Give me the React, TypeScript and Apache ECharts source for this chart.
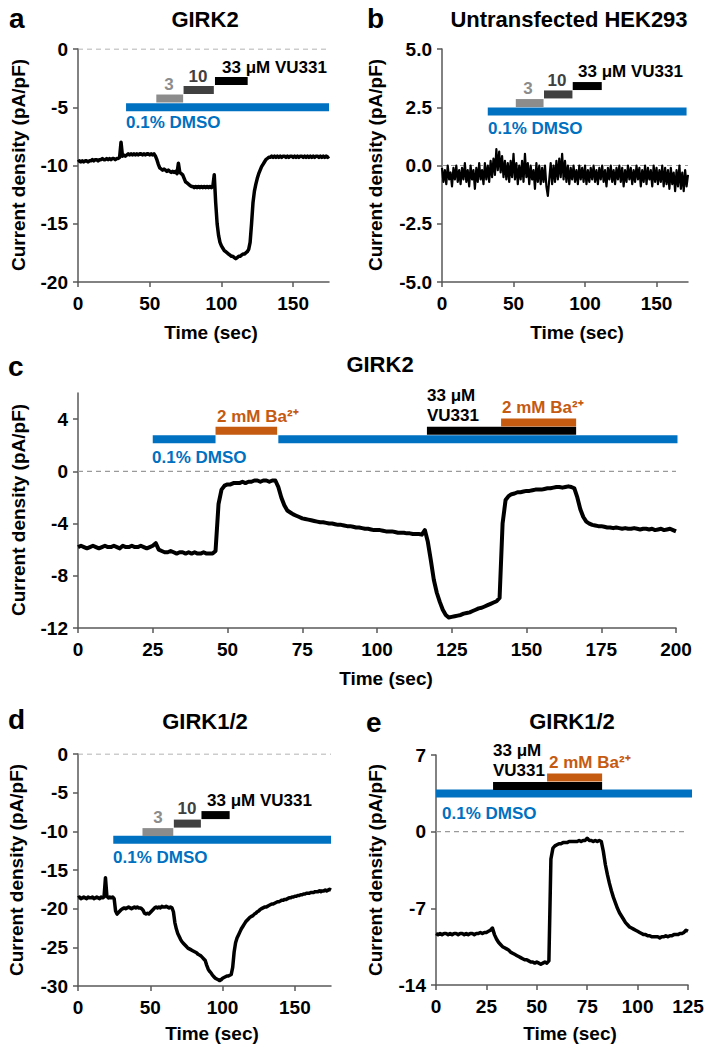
import React, { useEffect, useRef } from 'react';
import * as echarts from 'echarts';

// ---------- DATA (one sample per second, t = index in s) ----------
// Panel a — GIRK2 (pA/pF)
const aCurrent = [
  -9.7, -9.6, -9.7, -9.6, -9.7, -9.6, -9.6, -9.7, -9.6, -9.6,
  -9.5, -9.6, -9.5, -9.5, -9.6, -9.5, -9.5, -9.4, -9.5, -9.5,
  -9.4, -9.5, -9.4, -9.5, -9.4, -9.4, -9.5, -9.4, -9.4, -9.3,
  -8.0, -9.2, -9.1, -9.2, -9.1, -9.0, -9.1, -9.0, -9.1, -9.0,
  -9.1, -9.0, -9.1, -9.0, -9.0, -9.1, -9.0, -9.1, -9.0, -9.0,
  -9.1, -9.0, -9.1, -9.0, -9.2, -9.5, -9.9, -10.2, -10.3, -10.4,
  -10.3, -10.4, -10.5, -10.4, -10.5, -10.6, -10.5, -10.6, -10.5, -10.7,
  -9.8, -10.6, -10.7, -10.8, -11.1, -11.4, -11.5, -11.6, -11.7, -11.8,
  -11.8, -11.9, -11.8, -11.9, -11.8, -11.9, -11.8, -11.9, -11.8, -11.9,
  -11.8, -11.9, -11.8, -11.9, -11.8, -10.8, -13.2, -15.0, -16.0, -16.6,
  -16.9, -17.1, -17.3, -17.4, -17.5, -17.6, -17.7, -17.8, -17.8, -17.9,
  -18.0, -17.9, -17.8, -17.8, -17.7, -17.6, -17.6, -17.5, -17.4, -17.2,
  -16.6, -15.0, -13.2, -12.2, -11.6, -11.1, -10.7, -10.4, -10.1, -9.9,
  -9.7, -9.5, -9.4, -9.3, -9.3, -9.2, -9.3, -9.2, -9.3, -9.2,
  -9.3, -9.2, -9.3, -9.2, -9.2, -9.3, -9.2, -9.3, -9.2, -9.2,
  -9.3, -9.2, -9.3, -9.2, -9.3, -9.2, -9.2, -9.3, -9.2, -9.3,
  -9.2, -9.3, -9.2, -9.3, -9.2, -9.3, -9.2, -9.2, -9.3, -9.2,
  -9.3, -9.2, -9.3, -9.2, -9.3, -9.2,
];
const aBarStart = [33.5, 54.6, 73.6, 95.5];
const aBarEnd = [175, 73.3, 94.7, 118.3];
const aBarLevel = [-5.0, -4.25, -3.52, -2.75];

// Panel b — untransfected HEK293
const bCurrent = [
  -0.1, -0.7, -0.2, -0.8, 0.0, -0.6, -0.3, -0.9, -0.1, -0.6,
  0.0, -0.7, -0.2, -0.8, -0.1, -0.6, 0.1, -0.7, -0.2, -0.9,
  0.0, -0.6, -0.2, -1.0, -0.1, -0.7, 0.1, -0.6, -0.2, -0.8,
  0.1, -0.6, 0.0, -0.7, 0.2, -0.5, 0.3, -0.4, 0.7, -0.2,
  0.6, -0.3, 0.4, -0.5, 0.2, -0.6, 0.1, -0.7, 0.2, -0.5,
  0.5, -0.6, 0.1, -0.8, 0.0, -0.6, 0.2, -0.7, 0.5, -0.5,
  0.1, -0.8, 0.0, -0.6, -0.2, -1.0, 0.1, -0.7, 0.0, -0.8,
  -0.1, -0.7, 0.0, -0.9, -1.3, -0.6, 0.1, -0.8, 0.0, -0.7,
  0.2, -0.6, 0.3, -0.5, 0.5, -0.6, 0.2, -0.7, 0.0, -0.8,
  -0.1, -0.6, 0.0, -0.7, -0.2, -0.8, 0.0, -0.6, -0.1, -0.7,
  0.0, -0.8, -0.2, -0.7, -0.1, -0.6, 0.0, -0.7, -0.2, -0.8,
  -0.1, -0.6, 0.0, -0.7, -0.2, -0.9, -0.1, -0.6, 0.0, -0.7,
  -0.2, -0.8, -0.1, -0.6, 0.0, -0.7, -0.1, -0.9, -0.2, -0.7,
  0.0, -0.6, -0.1, -0.8, -0.2, -0.7, 0.0, -0.6, -0.1, -0.9,
  -0.2, -0.7, 0.0, -0.8, -0.1, -0.6, -0.2, -0.9, 0.0, -0.7,
  -0.1, -0.8, -0.2, -0.7, 0.0, -0.9, -0.1, -0.8, -0.2, -1.0,
  -0.1, -0.8, -0.3, -1.1, -0.2, -0.9, 0.0, -1.0, -0.3, -1.1,
  -0.2, -0.9, -0.4,
];
const bBarStart = [32, 51.6, 71.3, 91.4];
const bBarEnd = [171, 71, 91.2, 111.7];
const bBarLevel = [2.32, 2.68, 3.05, 3.41];

// Panel c — GIRK2 with Ba2+
const cCurrent = [
  -5.8, -5.7, -5.8, -5.9, -5.8, -5.7, -5.8, -5.9, -5.8, -5.7,
  -5.8, -5.8, -5.7, -5.8, -5.9, -5.7, -5.8, -5.8, -5.7, -5.8,
  -5.8, -5.7, -5.8, -5.9, -5.8, -5.7, -5.5, -6.0, -6.1, -6.2,
  -6.2, -6.1, -6.2, -6.3, -6.2, -6.2, -6.3, -6.2, -6.3, -6.2,
  -6.3, -6.3, -6.2, -6.3, -6.3, -6.3, -6.1, -2.5, -1.4, -1.1,
  -1.0, -1.0, -0.9, -0.9, -0.9, -0.8, -0.9, -0.8, -0.8, -0.7,
  -0.7, -0.8, -0.7, -0.7, -0.8, -0.7, -0.7, -1.2, -2.0, -2.6,
  -3.0, -3.15, -3.3, -3.4, -3.5, -3.6, -3.65, -3.7, -3.75, -3.8,
  -3.85, -3.9, -3.9, -3.95, -4.0, -4.0, -4.05, -4.1, -4.1, -4.15,
  -4.2, -4.2, -4.25, -4.3, -4.3, -4.35, -4.4, -4.4, -4.45, -4.5,
  -4.5, -4.5, -4.55, -4.6, -4.6, -4.6, -4.65, -4.7, -4.7, -4.7,
  -4.75, -4.75, -4.8, -4.8, -4.8, -4.85, -4.5, -5.4, -6.8, -8.3,
  -9.3, -10.0, -10.6, -11.0, -11.2, -11.15, -11.1, -11.05, -11.0, -10.9,
  -10.85, -10.8, -10.7, -10.6, -10.5, -10.45, -10.35, -10.25, -10.15, -10.05,
  -9.95, -9.7, -4.0, -2.2, -1.9, -1.75, -1.7, -1.6, -1.6, -1.55,
  -1.5, -1.5, -1.45, -1.4, -1.4, -1.4, -1.35, -1.3, -1.3, -1.25,
  -1.2, -1.2, -1.25, -1.2, -1.15, -1.2, -1.3, -2.0, -2.9, -3.5,
  -3.85, -4.0, -4.1, -4.15, -4.2, -4.2, -4.25, -4.3, -4.3, -4.35,
  -4.3, -4.35, -4.4, -4.35, -4.4, -4.4, -4.35, -4.4, -4.45, -4.4,
  -4.4, -4.45, -4.4, -4.5, -4.45, -4.4, -4.5, -4.45, -4.4, -4.5,
  -4.6,
];
const cBarStart = [25, 67, 46, 116.7, 141.5];
const cBarEnd = [46, 200.5, 66.6, 166.6, 166.6];
const cBarLevel = [2.45, 2.45, 3.1, 3.1, 3.75];

// Panel d — GIRK1/2
const dCurrent = [
  -18.6, -18.5, -18.7, -18.6, -18.5, -18.6, -18.7, -18.5, -18.6, -18.6,
  -18.5, -18.7, -18.6, -18.5, -18.6, -18.7, -18.5, -18.6, -18.5, -16.0,
  -18.4, -18.6, -18.5, -18.6, -18.5, -18.7, -20.3, -20.7, -20.5, -20.3,
  -20.1, -20.0, -19.9, -20.0, -19.9, -19.8, -19.9, -20.0, -19.9, -19.8,
  -19.9, -19.8, -19.9, -19.9, -20.0, -20.2, -20.6, -20.7, -20.6, -20.7,
  -20.5, -20.3, -20.1, -19.9, -19.8, -19.9, -19.8, -19.9, -19.7, -19.8,
  -19.8, -19.7, -19.8, -19.9, -19.8, -19.9, -20.4, -21.8, -22.6, -23.2,
  -23.6, -24.0, -24.3, -24.5, -24.7, -24.9, -25.1, -25.2, -25.3, -25.4,
  -25.5, -25.6, -25.7, -25.9, -26.0, -26.1, -26.3, -26.5, -26.7, -27.3,
  -27.8, -28.1, -28.3, -28.6, -28.8, -29.0, -29.1, -29.2, -29.3, -29.2,
  -29.0, -28.9, -28.8, -28.7, -28.7, -28.6, -28.5, -27.6, -25.6, -24.4,
  -23.8, -23.4, -23.0, -22.6, -22.3, -22.0, -21.7, -21.5, -21.3, -21.1,
  -21.0, -20.9, -20.7, -20.6, -20.4, -20.3, -20.1, -20.0, -19.9, -19.8,
  -19.8, -19.7, -19.6, -19.5, -19.4, -19.4, -19.3, -19.2, -19.1, -19.1,
  -19.0, -18.9, -18.9, -18.8, -18.8, -18.7, -18.6, -18.6, -18.5, -18.5,
  -18.4, -18.4, -18.3, -18.3, -18.2, -18.2, -18.1, -18.1, -18.0, -18.0,
  -18.0, -17.9, -17.9, -17.9, -17.8, -17.8, -17.8, -17.7, -17.8, -17.7,
  -17.7, -17.6, -17.7, -17.6, -17.5, -17.6,
];
const dBarStart = [24.4, 44.6, 66.3, 85.4];
const dBarEnd = [175, 65.9, 85, 104.9];
const dBarLevel = [-11.1, -10.1, -9.0, -7.9];

// Panel e — GIRK1/2 with Ba2+
const eCurrent = [
  -9.3, -9.4, -9.3, -9.4, -9.3, -9.3, -9.4, -9.3, -9.4, -9.3,
  -9.3, -9.4, -9.3, -9.3, -9.4, -9.3, -9.4, -9.3, -9.3, -9.4,
  -9.3, -9.3, -9.2, -9.3, -9.2, -9.2, -9.1, -9.0, -8.8, -9.4,
  -9.8, -10.1, -10.3, -10.5, -10.6, -10.7, -10.8, -11.0, -11.1, -11.2,
  -11.3, -11.4, -11.5, -11.6, -11.7, -11.7, -11.8, -11.9, -11.9, -12.0,
  -11.9, -12.0, -12.1, -12.0, -11.9, -12.0, -11.8, -2.5, -1.5, -1.3,
  -1.2, -1.1, -1.1, -1.0, -1.0, -1.0, -0.9, -0.9, -0.9, -0.9,
  -0.9, -0.8, -0.9, -0.8, -0.8, -0.6, -0.8, -0.8, -0.9, -0.8,
  -0.9, -0.8, -0.9, -1.8, -3.0, -3.9, -4.7, -5.4, -6.0, -6.5,
  -7.0, -7.4, -7.7, -8.0, -8.3, -8.5, -8.7, -8.8, -8.9, -9.0,
  -9.1, -9.2, -9.3, -9.4, -9.4, -9.5, -9.5, -9.6, -9.6, -9.6,
  -9.6, -9.7, -9.6, -9.6, -9.5, -9.6, -9.5, -9.5, -9.4, -9.4,
  -9.4, -9.3, -9.3, -9.2, -9.0, -9.1,
];
const eBarStart = [0, 28.3, 55.1];
const eBarEnd = [127, 82.4, 82.4];
const eBarLevel = [3.49, 4.17, 4.95];

// Axis ticks
const aXTicks = [0, 50, 100, 150];
const aYTicks = [-20, -15, -10, -5, 0];
const bXTicks = [0, 50, 100, 150];
const bYTicks = [-5, -2.5, 0, 2.5, 5];
const cXTicks = [0, 25, 50, 75, 100, 125, 150, 175, 200];
const cYTicks = [-12, -8, -4, 0, 4];
const dXTicks = [0, 50, 100, 150];
const dYTicks = [-30, -25, -20, -15, -10, -5, 0];
const eXTicks = [0, 25, 50, 75, 100, 125];
const eYTicks = [-14, -7, 0, 7];

// ---------- STYLE ----------
const FONT = '"Liberation Sans", Arial, Helvetica, sans-serif';
const AXIS_COLOR = '#595959';
const BLUE = '#0070C0';
const ORANGE = '#C55A11';
const GRAY3 = '#8C8C8C';
const GRAY10 = '#404040';
const BLACK = '#000000';

const toPoints = (vals: number[]) => vals.map((v, i) => [i, v]);

function makeAxes(
  idx: number,
  xMax: number,
  xInterval: number,
  xTicks: number[],
  yMin: number,
  yMax: number,
  yInterval: number,
  yTicks: number[],
  yFmt?: (v: number) => string
) {
  const lineStyle = { color: AXIS_COLOR, width: 1.5 };
  const label = {
    fontSize: 19,
    fontWeight: 'bold',
    fontFamily: FONT,
    color: '#000',
  };
  const x = {
    type: 'value',
    gridIndex: idx,
    min: 0,
    max: xMax,
    interval: xInterval,
    axisLine: { show: true, onZero: false, lineStyle },
    axisTick: { show: true, length: 5, lineStyle, customValues: xTicks },
    axisLabel: { ...label, margin: 12, customValues: xTicks },
    splitLine: { show: false },
  };
  const y = {
    type: 'value',
    gridIndex: idx,
    min: yMin,
    max: yMax,
    interval: yInterval,
    axisLine: { show: true, onZero: false, lineStyle },
    axisTick: { show: true, length: 5, lineStyle, customValues: yTicks },
    axisLabel: {
      ...label,
      margin: 10,
      customValues: yTicks,
      formatter: yFmt ? (v: number) => yFmt(v) : (v: number) => String(v),
    },
    splitLine: { show: false },
  };
  return { x, y };
}

function barSeries(idx: number, starts: number[], ends: number[], levels: number[], colors: string[]) {
  return starts.map((s, k) => ({
    type: 'line',
    xAxisIndex: idx,
    yAxisIndex: idx,
    data: [
      [s, levels[k]],
      [ends[k], levels[k]],
    ],
    showSymbol: false,
    symbol: 'none',
    clip: false,
    silent: true,
    lineStyle: { color: colors[k], width: 8, cap: 'butt' },
    z: 3,
  }));
}

function zeroLine(idx: number, xMax: number) {
  return {
    type: 'line',
    xAxisIndex: idx,
    yAxisIndex: idx,
    data: [
      [0, 0],
      [xMax, 0],
    ],
    showSymbol: false,
    symbol: 'none',
    silent: true,
    lineStyle: { color: '#9a9a9a', width: 1.2, type: [5, 4] },
    z: 1,
  };
}

function trace(idx: number, vals: number[], width: number) {
  return {
    type: 'line',
    xAxisIndex: idx,
    yAxisIndex: idx,
    data: toPoints(vals),
    showSymbol: false,
    symbol: 'none',
    silent: true,
    lineStyle: { color: '#000', width, join: 'round' },
    z: 4,
  };
}

function txt(
  x: number,
  y: number,
  text: string,
  size: number,
  color: string,
  align: string = 'left',
  rotation: number = 0
) {
  return {
    type: 'text',
    x,
    y,
    rotation,
    silent: true,
    style: {
      text,
      fill: color,
      fontSize: size,
      fontWeight: 'bold',
      fontFamily: FONT,
      textAlign: align,
      textVerticalAlign: 'middle',
    },
  };
}

const Y_NAME = 'Current density (pA/pF)';
const X_NAME = 'Time (sec)';

export default function App() {
  const ref = useRef<HTMLDivElement>(null);

  useEffect(() => {
    if (!ref.current) return;
    document.body.style.margin = '0';
    const chart = echarts.init(ref.current, undefined, { renderer: 'svg' });

    const A = makeAxes(0, 175, 50, aXTicks, -20, 0, 5, aYTicks);
    const B = makeAxes(1, 172, 50, bXTicks, -5, 5, 2.5, bYTicks, (v) => v.toFixed(1));
    const C = makeAxes(2, 200, 25, cXTicks, -12, 6, 4, cYTicks);
    const D = makeAxes(3, 175, 50, dXTicks, -30, 0, 5, dYTicks);
    const E = makeAxes(4, 125, 25, eXTicks, -14, 7, 7, eYTicks);

    const gridBase = { containLabel: false, outerBoundsMode: 'none', show: false };

    const option: any = {
      animation: false,
      backgroundColor: '#ffffff',
      grid: [
        { ...gridBase, left: 78, top: 49, width: 251, height: 233 },
        { ...gridBase, left: 442, top: 49, width: 246, height: 233 },
        { ...gridBase, left: 78, top: 393, width: 598, height: 235 },
        { ...gridBase, left: 78, top: 754, width: 253, height: 232 },
        { ...gridBase, left: 436, top: 755, width: 252, height: 230 },
      ],
      xAxis: [A.x, B.x, C.x, D.x, E.x],
      yAxis: [A.y, B.y, C.y, D.y, E.y],
      series: [
        zeroLine(0, 175),
        ...barSeries(0, aBarStart, aBarEnd, aBarLevel, [BLUE, GRAY3, GRAY10, BLACK]),
        trace(0, aCurrent, 3.5),

        zeroLine(1, 172),
        ...barSeries(1, bBarStart, bBarEnd, bBarLevel, [BLUE, GRAY3, GRAY10, BLACK]),
        trace(1, bCurrent, 2.2),

        zeroLine(2, 200),
        ...barSeries(2, cBarStart, cBarEnd, cBarLevel, [BLUE, BLUE, ORANGE, BLACK, ORANGE]),
        trace(2, cCurrent, 4),

        zeroLine(3, 175),
        ...barSeries(3, dBarStart, dBarEnd, dBarLevel, [BLUE, GRAY3, GRAY10, BLACK]),
        trace(3, dCurrent, 3.5),

        zeroLine(4, 125),
        ...barSeries(4, eBarStart, eBarEnd, eBarLevel, [BLUE, BLACK, ORANGE]),
        trace(4, eCurrent, 3.5),
      ],
      graphic: [
        // panel a
        txt(9, 18, 'a', 28, BLACK),
        txt(205, 19, 'GIRK2', 22, BLACK, 'center'),
        txt(169, 84, '3', 17, GRAY3, 'center'),
        txt(198, 76, '10', 17, GRAY10, 'center'),
        txt(222, 67, '33 μM VU331', 17, BLACK),
        txt(126, 122, '0.1% DMSO', 17, BLUE),
        txt(18, 165, Y_NAME, 19, BLACK, 'center', Math.PI / 2),
        txt(211, 332, X_NAME, 19, BLACK, 'center'),
        // panel b
        txt(367, 18, 'b', 28, BLACK),
        txt(569, 19, 'Untransfected HEK293', 22, BLACK, 'center'),
        txt(528, 88, '3', 17, GRAY3, 'center'),
        txt(557, 80, '10', 17, GRAY10, 'center'),
        txt(578, 71, '33 μM VU331', 17, BLACK),
        txt(488, 128, '0.1% DMSO', 17, BLUE),
        txt(375, 165, Y_NAME, 19, BLACK, 'center', Math.PI / 2),
        txt(577, 332, X_NAME, 19, BLACK, 'center'),
        // panel c
        txt(8, 366, 'c', 28, BLACK),
        txt(380, 364, 'GIRK2', 22, BLACK, 'center'),
        txt(217, 416, '2 mM Ba²⁺', 17, ORANGE),
        txt(152, 457, '0.1% DMSO', 17, BLUE),
        txt(427, 395, '33 μM', 17, BLACK),
        txt(427, 415, 'VU331', 17, BLACK),
        txt(502, 407, '2 mM Ba²⁺', 17, ORANGE),
        txt(18, 510, Y_NAME, 19, BLACK, 'center', Math.PI / 2),
        txt(386, 678, X_NAME, 19, BLACK, 'center'),
        // panel d
        txt(8, 719, 'd', 28, BLACK),
        txt(205, 721, 'GIRK1/2', 22, BLACK, 'center'),
        txt(158, 817, '3', 17, GRAY3, 'center'),
        txt(187, 808, '10', 17, GRAY10, 'center'),
        txt(207, 800, '33 μM VU331', 17, BLACK),
        txt(113, 857, '0.1% DMSO', 17, BLUE),
        txt(16, 870, Y_NAME, 19, BLACK, 'center', Math.PI / 2),
        txt(212, 1033, X_NAME, 19, BLACK, 'center'),
        // panel e
        txt(366, 722, 'e', 28, BLACK),
        txt(572, 721, 'GIRK1/2', 22, BLACK, 'center'),
        txt(493, 750, '33 μM', 17, BLACK),
        txt(493, 770, 'VU331', 17, BLACK),
        txt(549, 762, '2 mM Ba²⁺', 17, ORANGE),
        txt(442, 813, '0.1% DMSO', 17, BLUE),
        txt(375, 870, Y_NAME, 19, BLACK, 'center', Math.PI / 2),
        txt(570, 1033, X_NAME, 19, BLACK, 'center'),
      ],
    };

    chart.setOption(option);
    return () => chart.dispose();
  }, []);

  return (
    <div
      ref={ref}
      style={{ position: 'absolute', left: 0, top: 0, width: 711, height: 1050, background: '#fff' }}
    />
  );
}
